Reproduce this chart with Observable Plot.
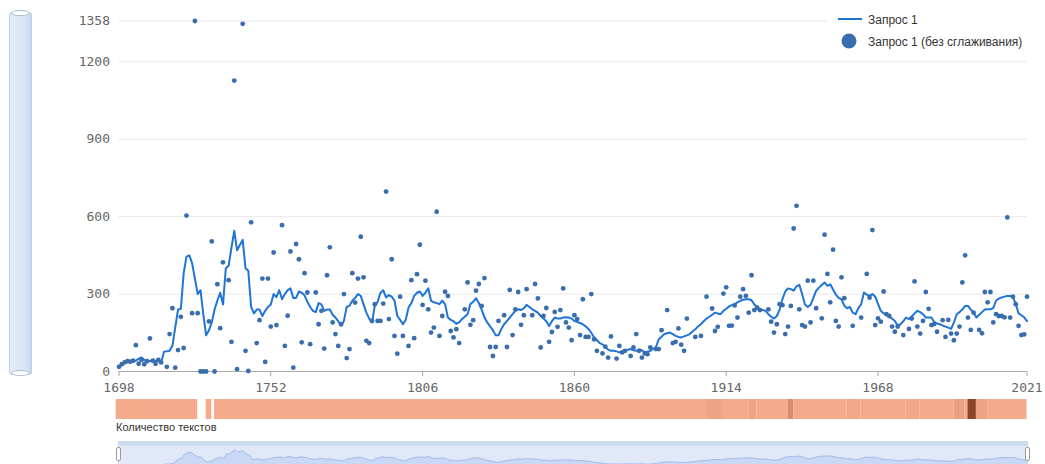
<!DOCTYPE html>
<html>
<head>
<meta charset="utf-8">
<script src="https://cdn.jsdelivr.net/npm/d3@7"></script>
<script src="https://cdn.jsdelivr.net/npm/@observablehq/plot@0.6"></script>
<style>
  html, body { margin: 0; padding: 0; background: #fff; }
  #root { position: relative; width: 1045px; height: 464px; overflow: hidden; font-family: "Liberation Sans", Arial, sans-serif; }
  #root > * { position: absolute; }
  svg { overflow: visible; }
</style>
</head>
<body>
<div id="root"></div>
<script>
// ---------- DATA ----------
const lineStartYear = 1698;
// smoothed series ("Запрос 1"), one value per year 1698..2021
const lineValues = [
  22, 28,
  35, 38, 40, 38, 42, 50, 54, 45, 42, 40,
  45, 42, 40, 35, 77, 78, 80, 100, 170, 240,
  242, 380, 445, 450, 420, 360, 300, 315, 220, 140,
  160, 190, 240, 275, 305, 260, 400, 410, 480, 545,
  470, 490, 510, 400, 390, 250, 225, 240, 240, 215,
  235, 250, 260, 300, 288, 315, 280, 300, 315, 322,
  285, 285, 310, 305, 295, 270, 250, 235, 230, 265,
  260, 235, 240, 240, 220, 209, 195, 178, 196, 250,
  255, 274, 285, 300, 293, 260, 228, 205, 190, 255,
  270, 305, 315, 287, 296, 290, 275, 215, 200, 183,
  200, 248, 265, 293, 305, 310, 293, 305, 322, 274,
  268, 265, 261, 275, 260, 209, 200, 195, 185, 190,
  203, 212, 222, 261, 270, 284, 265, 240, 210, 190,
  175, 160, 140, 140, 165, 183, 195, 209, 222, 235,
  241, 238, 245, 258, 250, 241, 235, 228, 215, 205,
  195, 176, 195, 209, 205, 205, 209, 210, 209, 205,
  196, 192, 188, 183, 175, 165, 150, 132, 122, 110,
  105, 93, 85, 80, 80, 78, 74, 78, 80, 84,
  87, 82, 80, 85, 82, 74, 77, 80, 88, 95,
  125, 135, 145, 148, 151, 145, 138, 134, 132, 136,
  140, 145, 155, 164, 175, 183, 195, 205, 212, 220,
  228, 225, 222, 235, 243, 252, 257, 261, 268, 274,
  278, 280, 280, 276, 260, 250, 241, 238, 235, 222,
  212, 205, 215, 240, 280, 310, 322, 319, 313, 330,
  336, 300, 260, 250, 258, 285, 313, 325, 335, 345,
  332, 338, 318, 298, 285, 280, 255, 245, 250, 228,
  222, 245, 261, 306, 298, 293, 300, 290, 262, 235,
  225, 220, 213, 205, 196, 178, 183, 195, 209, 203,
  213, 225, 235, 230, 222, 209, 209, 209, 192, 186,
  183, 178, 174, 170, 165, 190, 222, 230, 240, 254,
  254, 240, 228, 209, 220, 230, 240, 241, 241, 246,
  275, 282, 287, 290, 293, 293, 287, 262, 225, 218,
  210, 195
];

// raw series ("Запрос 1 (без сглаживания)")
const rawYears = [
  1698,1699,1700,1701,1702,1703,1704,1705,1706,1707,1708,1709,1710,1711,1712,1713,1715,1716,1717,1718,
  1719,1720,1721,1722,1724,1725,1726,1727,1728,1729,1730,1731,1732,1733,1734,1735,1737,1738,1739,1740,
  1742,1743,1744,1745,1747,1748,1749,1750,1751,1752,1753,1754,1756,1757,1758,1759,1760,1761,1762,1763,
  1764,1765,1766,1768,1769,1770,1771,1772,1773,1774,1775,1776,1777,1778,1779,1780,1781,1782,1783,1784,
  1785,1786,1787,1788,1789,1790,1791,1792,1793,1794,1795,1796,1797,1798,1799,1801,1802,1803,1804,1805,
  1806,1807,1808,1809,1810,1811,1812,1813,1814,1815,1816,1817,1818,1819,1821,1822,1823,1824,1825,1826,
  1827,1828,1830,1831,1832,1833,1835,1836,1837,1838,1839,1840,1841,1842,1843,1845,1846,1847,1848,1849,
  1850,1851,1852,1853,1854,1855,1856,1857,1858,1859,1860,1861,1862,1863,1864,1865,1866,1867,1868,1870,
  1871,1872,1873,1875,1876,1877,1878,1880,1881,1882,1883,1884,1885,1886,1887,1889,1890,1891,1893,1895,
  1896,1897,1898,1899,1900,1903,1905,1907,1909,1910,1911,1913,1914,1915,1916,1917,1918,1919,1920,1921,
  1922,1923,1924,1925,1926,1929,1930,1931,1932,1933,1934,1935,1936,1937,1938,1939,1940,1941,1942,1943,
  1944,1945,1946,1948,1949,1950,1951,1952,1953,1954,1955,1956,1959,1962,1964,1965,1966,1967,1968,1969,
  1970,1971,1972,1973,1974,1975,1977,1979,1980,1981,1982,1983,1984,1985,1986,1987,1988,1989,1991,1992,
  1993,1994,1995,1996,1997,1998,1999,2000,2001,2002,2004,2005,2006,2007,2008,2009,2010,2011,2012,2013,
  2014,2015,2016,2017,2018,2019,2020,2021
];
const rawValues = [
  18,28,35,40,38,42,102,30,45,28,40,128,42,30,45,35,18,145,245,15,
  83,212,91,604,226,1358,226,0,0,0,194,504,0,338,168,423,354,115,1127,9,
  1347,80,2,578,110,199,360,37,360,174,461,180,567,99,216,465,15,494,435,113,
  381,306,106,306,183,235,89,373,481,190,145,99,183,300,52,87,381,267,360,522,
  365,119,110,196,261,196,196,263,697,203,435,138,69,290,138,99,354,129,377,491,
  258,352,241,151,170,619,138,215,309,293,157,132,164,110,241,345,181,199,313,339,
  254,362,95,60,95,196,218,95,316,141,241,308,181,218,319,218,339,283,93,215,
  246,115,153,231,173,238,322,190,170,121,218,203,141,280,134,134,300,125,80,70,
  96,54,136,50,99,74,80,60,93,145,80,54,70,67,93,87,87,160,238,110,
  115,167,104,80,205,134,138,290,244,157,173,302,326,177,178,256,209,290,319,293,
  228,373,238,247,238,241,193,151,183,261,257,145,174,254,554,642,241,180,174,352,
  190,352,245,206,530,378,268,472,196,174,365,284,177,209,378,286,548,180,206,193,
  310,222,215,174,154,174,141,165,205,349,174,147,196,308,243,180,184,154,199,134,
  200,147,121,147,174,345,450,209,161,228,161,148,308,268,308,190,222,215,215,210,
  597,209,290,261,177,141,144,290
];

// "Количество текстов" strip: runs of years [from, to] with relative text-count level
const stripFrom  = [1698, 1730, 1733, 1908, 1914, 1923, 1926, 1937, 1939, 1958, 1963, 1979, 1984, 1996, 2000, 2001, 2004, 2008];
const stripTo    = [1726, 1731, 1907, 1913, 1922, 1925, 1936, 1938, 1957, 1962, 1978, 1983, 1995, 1999, 2000, 2003, 2007, 2021];
const stripLevel = [1,    1,    1,    1.2,  1,    1.25, 1,    2.0,  1,    1.12, 1,    1.12, 1,    1.35, 1,    4.5,  1.2,  1];

const xTicks = [1698, 1752, 1806, 1860, 1914, 1968, 2021];
const yTicks = [0, 300, 600, 900, 1200, 1358];
const seriesNames = ["Запрос 1", "Запрос 1 (без сглаживания)"];
const stripLabel = "Количество текстов";

// ---------- BUILD ----------
const lineData = lineValues.map((v, i) => ({year: lineStartYear + i, value: v}));
const rawData = rawYears.map((y, i) => ({year: y, value: rawValues[i]}));
const stripData = stripFrom.map((f, i) => ({from: f, to: stripTo[i], level: stripLevel[i]}));

const LINE = "#1f74d6", DOT = "#3a6dad";
const ML = 118.5, MR = 18.5;
const root = document.getElementById("root");

// left vertical scrollbar
const sb = document.createElement("div");
sb.style.cssText = "left:9px;top:12px;width:23px;height:363px;background:linear-gradient(90deg,#e3ecf9 0%,#dae5f6 70%,#c6d8ef 100%);border:1px solid #bccfe8;border-radius:3px;box-sizing:border-box;";
root.appendChild(sb);
for (const t of [10, 370]) {
  const h = document.createElement("div");
  h.style.cssText = `left:11px;top:${t}px;width:19px;height:6px;background:#fff;border:1px solid #a9b9cc;border-radius:50%;box-sizing:border-box;`;
  root.appendChild(h);
}

// main chart
const main = Plot.plot({
  width: 1045, height: 392,
  marginLeft: ML, marginRight: MR, marginTop: 20.5, marginBottom: 21,
  x: {domain: [1698, 2021], label: null},
  y: {domain: [0, 1358], label: null},
  style: {fontFamily: "'DejaVu Sans Mono', monospace", fontSize: "13px", color: "#666", background: "transparent"},
  marks: [
    Plot.gridY(yTicks, {stroke: "#e8e8e8", strokeOpacity: 1, strokeWidth: 1}),
    Plot.ruleY([0], {stroke: "#a8a8a8"}),
    Plot.axisY(yTicks, {tickSize: 0, tickPadding: 9, label: null, fill: "#666", tickFormat: d => String(d)}),
    Plot.axisX(xTicks, {tickSize: 5, tickPadding: 6, label: null, stroke: "#a8a8a8", fill: "#666", tickFormat: d => String(d)}),
    Plot.line(lineData, {x: "year", y: "value", stroke: LINE, strokeWidth: 2, curve: "linear"}),
    Plot.dot(rawData, {x: "year", y: "value", r: 2.4, fill: DOT, stroke: "none"})
  ]
});
main.style.left = "0px"; main.style.top = "0px";
root.appendChild(main);

// legend
const leg = document.createElement("div");
leg.style.cssText = "left:828px;top:6px;width:212px;height:48px;background:#fff;";
leg.innerHTML = `
  <svg width="212" height="48" style="position:absolute;left:0;top:0">
    <line x1="10" x2="34" y1="13" y2="13" stroke="${LINE}" stroke-width="2"/>
    <circle cx="21" cy="35" r="7.5" fill="${DOT}"/>
    <text x="40" y="17.5" font-size="12" fill="#333" font-family="Liberation Sans, Arial, sans-serif">${seriesNames[0]}</text>
    <text x="40" y="39.5" font-size="12" fill="#333" font-family="Liberation Sans, Arial, sans-serif">${seriesNames[1]}</text>
  </svg>`;
root.appendChild(leg);

// text-count strip
const strip = Plot.plot({
  width: 1045, height: 20,
  marginLeft: ML, marginRight: MR, marginTop: 0, marginBottom: 0,
  x: {domain: [1698, 2021], axis: null},
  y: {domain: [0, 1], axis: null},
  color: {type: "linear", domain: [1, 4.5], range: ["#f5ab8b", "#8c4524"]},
  marks: [
    Plot.rect(stripData, {x1: d => d.from - 1, x2: "to", y1: 0, y2: 1, fill: "level"})
  ]
});
strip.style.left = "0px"; strip.style.top = "399px";
root.appendChild(strip);

const lab = document.createElement("div");
lab.textContent = stripLabel;
lab.style.cssText = "left:116px;top:421px;font-size:11px;color:#333;white-space:nowrap;";
root.appendChild(lab);

// navigator
const navBg = document.createElement("div");
navBg.style.cssText = "left:118px;top:441px;width:910px;height:30px;background:#e1e9f8;border:1px solid #c3d3ea;box-sizing:border-box;";
root.appendChild(navBg);
const navBand = document.createElement("div");
navBand.style.cssText = "left:118px;top:441px;width:910px;height:5px;background:#ccdcee;";
root.appendChild(navBand);
const nav = Plot.plot({
  width: 1045, height: 30,
  marginLeft: 119, marginRight: 17, marginTop: 5, marginBottom: 5,
  x: {domain: [1698, 2021], axis: null},
  y: {domain: [0, 650], axis: null},
  marks: [
    Plot.areaY(lineData, {x: "year", y: "value", fill: "#c9d8f4", fillOpacity: 1}),
    Plot.line(lineData, {x: "year", y: "value", stroke: "#a7bde9", strokeWidth: 1})
  ]
});
nav.style.left = "0px"; nav.style.top = "441px";
root.appendChild(nav);
for (const l of [116, 1025]) {
  const h = document.createElement("div");
  h.style.cssText = `left:${l}px;top:447px;width:5px;height:14px;background:#fff;border:1px solid #999;border-radius:2px;box-sizing:border-box;`;
  root.appendChild(h);
}
</script>
</body>
</html>
